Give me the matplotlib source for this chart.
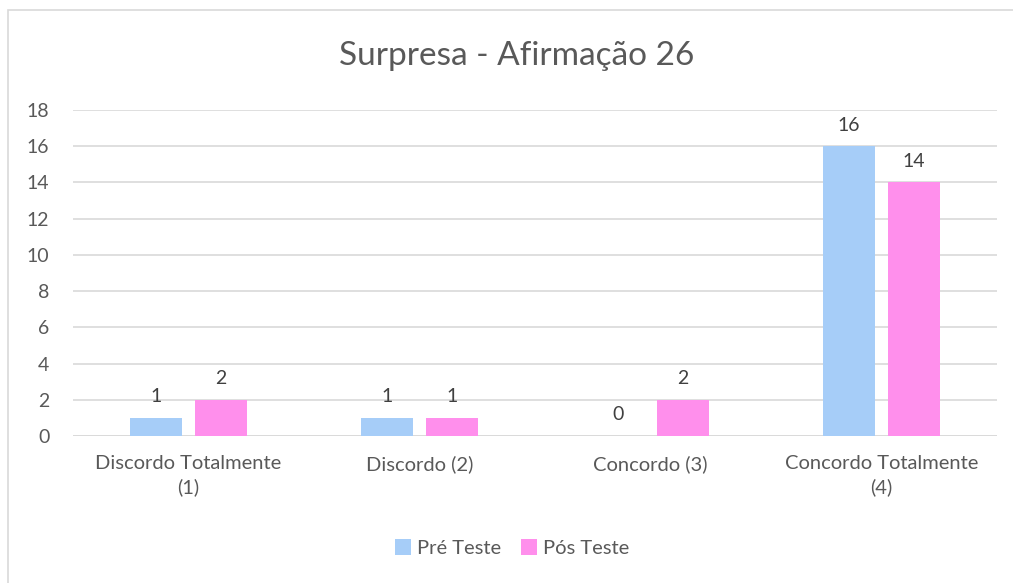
import matplotlib.pyplot as plt
import numpy as np
from matplotlib.patches import Rectangle

categorias = ['Discordo Totalmente\n(1)', 'Discordo (2)', 'Concordo (3)', 'Concordo Totalmente\n(4)']
pre_teste = [1, 1, 0, 16]
pos_teste = [2, 1, 2, 14]
series = ['Pré Teste', 'Pós Teste']

plt.rcParams['font.family'] = ['Lato', 'DejaVu Sans']

cor_pre = '#a6cdf8'
cor_pos = '#ff8fec'
cinza = '#595959'

fig = plt.figure(figsize=(10.13, 5.83), dpi=100)
fig.patches.append(Rectangle((8/1013, -0.01), 1.1, 1 - 10/583 + 0.01, transform=fig.transFigure,
                             fill=False, edgecolor='#d9d9d9', lw=1.2))
ax = fig.add_axes([73/1013, 1 - 436/583, (997 - 73)/1013, (436 - 110)/583])

x = np.arange(len(categorias))
w = 0.222
gap = 0.06
b1 = ax.bar(x - (w + gap)/2, pre_teste, w, color=cor_pre, zorder=3)
b2 = ax.bar(x + (w + gap)/2, pos_teste, w, color=cor_pos, zorder=3)

for bars in (b1, b2):
    for r in bars:
        ax.annotate(f'{int(r.get_height())}', (r.get_x() + r.get_width()/2, r.get_height()),
                    xytext=(0, 9), textcoords='offset points', ha='center', va='bottom',
                    fontsize=14, color='#404040')

ax.set_xlim(-0.5, 3.5)
ax.set_ylim(0, 18)
ax.set_yticks(range(0, 19, 2))
ax.set_xticks(x)
ax.set_xticklabels(categorias, fontsize=14.5, color=cinza, linespacing=1.4)
ax.tick_params(axis='y', labelsize=14, labelcolor=cinza, length=0, pad=17)
ax.tick_params(axis='x', length=0, pad=14)
ax.grid(axis='y', color='#d9d9d9', lw=1.2, zorder=0)
for s in ax.spines.values():
    s.set_visible(False)
ax.axhline(0, color='#d9d9d9', lw=1.2, zorder=2)

fig.text(517/1013, 1 - 56/583, 'Surpresa - Afirmação 26', ha='center', va='center',
         fontsize=24, color=cinza)

fig.legend([b1, b2], series, loc='center', bbox_to_anchor=(512/1013, 1 - 548/583),
           ncol=2, frameon=False, fontsize=14.5, handlelength=0.8, handleheight=0.8,
           handletextpad=0.3, columnspacing=1.0, labelcolor=cinza)

fig.savefig('out.png', dpi=100, facecolor='white')
